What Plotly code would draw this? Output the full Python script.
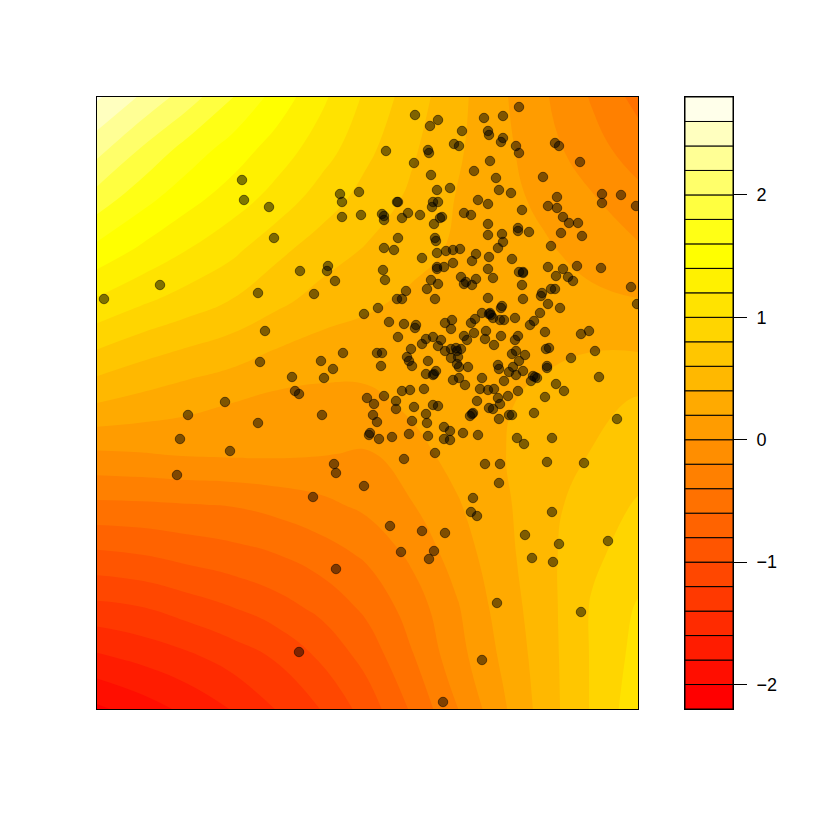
import plotly.graph_objects as go

grid_x = [97, 142, 187, 232, 277, 322, 367, 412, 457, 502, 547, 592, 638]
grid_y = [97, 148, 199, 250, 301, 352, 403, 454, 505, 556, 607, 658, 709]
grid_z = [
    [2.63, 2.37, 2.10, 1.81, 1.52, 1.24, 0.96, 0.70, 0.46, 0.23, 0.01, -0.22, -0.47],
    [2.28, 1.99, 1.73, 1.52, 1.31, 1.10, 0.85, 0.63, 0.43, 0.25, 0.07, -0.13, -0.30],
    [1.91, 1.67, 1.47, 1.30, 1.12, 0.90, 0.72, 0.56, 0.39, 0.26, 0.15, 0.02, -0.14],
    [1.54, 1.36, 1.20, 1.05, 0.85, 0.70, 0.58, 0.47, 0.37, 0.29, 0.22, 0.13, 0.03],
    [1.17, 1.03, 0.91, 0.79, 0.65, 0.52, 0.44, 0.36, 0.30, 0.27, 0.26, 0.24, 0.21],
    [0.78, 0.66, 0.57, 0.49, 0.38, 0.31, 0.29, 0.28, 0.28, 0.30, 0.37, 0.40, 0.40],
    [0.40, 0.33, 0.26, 0.20, 0.14, 0.13, 0.15, 0.24, 0.31, 0.38, 0.45, 0.53, 0.63],
    [-0.03, -0.01, 0.02, 0.03, 0.03, 0.01, -0.02, 0.13, 0.27, 0.39, 0.50, 0.61, 0.71],
    [-0.44, -0.43, -0.41, -0.39, -0.33, -0.25, -0.15, -0.01, 0.18, 0.36, 0.54, 0.70, 0.82],
    [-0.85, -0.81, -0.74, -0.68, -0.61, -0.50, -0.37, -0.16, 0.09, 0.33, 0.55, 0.76, 0.90],
    [-1.25, -1.20, -1.10, -1.00, -0.88, -0.74, -0.55, -0.31, -0.02, 0.29, 0.53, 0.82, 1.02],
    [-1.64, -1.55, -1.45, -1.32, -1.18, -0.97, -0.73, -0.42, -0.08, 0.23, 0.52, 0.82, 1.07],
    [-2.04, -1.90, -1.75, -1.59, -1.39, -1.19, -0.91, -0.57, -0.21, 0.16, 0.51, 0.82, 1.13],
]

levels = [round(-2.2 + 0.2 * i, 1) for i in range(26)]
band_colors = [
    "#ff0000", "#ff0e00", "#ff1c00", "#ff2b00", "#ff3900", "#ff4700", "#ff5500",
    "#ff6300", "#ff7100", "#ff8000", "#ff8e00", "#ff9c00", "#ffaa00", "#ffb800",
    "#ffc600", "#ffd500", "#ffe300", "#fff100", "#ffff00", "#ffff15", "#ffff40",
    "#ffff6a", "#ffff95", "#ffffbf", "#ffffea",
]
bar_ticks = [-2, -1, 0, 1, 2]

points = [
    (415, 115), (438, 120), (430, 126), (462, 131), (484, 118), (488, 131), (489, 135),
    (454, 144), (459, 146), (386, 151), (428, 150), (429, 153), (414, 163), (490, 161),
    (431, 175), (474, 171), (437, 190), (450, 188), (359, 192), (340, 194), (342, 202),
    (397, 202), (398, 202), (433, 202), (438, 202), (432, 207), (478, 200), (488, 204),
    (342, 217), (361, 215), (382, 214), (384, 216), (384, 220), (402, 218), (408, 213),
    (420, 215), (464, 213), (471, 215), (440, 218), (442, 217), (434, 224), (488, 224),
    (519, 107), (503, 116), (503, 138), (501, 142), (516, 146), (519, 153), (555, 143),
    (559, 146), (580, 162), (496, 178), (543, 177), (499, 190), (511, 193), (557, 197),
    (602, 194), (621, 195), (602, 203), (636, 206), (522, 210), (548, 206), (557, 208),
    (563, 217), (569, 223), (578, 223), (518, 228),
    (398, 238), (435, 238), (436, 241), (488, 235), (384, 248), (394, 250), (437, 253),
    (446, 251), (453, 250), (460, 249), (476, 254), (472, 261), (489, 257), (422, 258),
    (453, 263), (335, 281), (383, 270), (385, 280), (437, 267), (437, 269), (444, 267),
    (488, 269), (461, 277), (476, 279), (464, 284), (466, 282), (472, 285), (431, 280),
    (438, 284), (427, 289), (406, 291), (397, 299), (402, 299), (435, 299), (488, 298),
    (378, 308), (364, 314), (389, 322), (404, 324), (416, 325), (415, 328), (445, 323),
    (452, 320), (451, 329), (475, 319), (471, 323), (482, 313), (489, 314), (474, 333),
    (486, 331), (398, 337), (433, 337), (464, 336),
    (502, 234), (518, 231), (529, 232), (561, 233), (582, 236), (503, 242), (498, 248),
    (551, 246), (512, 259), (548, 267), (563, 269), (577, 266), (601, 268), (519, 272),
    (523, 272), (523, 273), (493, 278), (556, 276), (568, 277), (573, 281), (522, 285),
    (631, 287), (551, 289), (555, 289), (542, 293), (541, 296), (523, 299), (548, 304),
    (560, 308), (637, 304), (502, 306), (501, 308), (490, 313), (491, 315), (493, 318),
    (500, 320), (504, 320), (515, 318), (540, 313), (534, 321), (530, 325), (545, 332),
    (501, 336), (518, 336), (581, 334), (589, 331),
    (426, 339), (441, 340), (422, 344), (438, 346), (467, 340), (411, 349), (445, 351),
    (451, 349), (456, 348), (457, 351), (461, 349), (377, 353), (382, 353), (451, 358),
    (458, 357), (407, 357), (409, 361), (428, 361), (412, 366), (381, 366), (457, 364),
    (459, 367), (468, 367), (436, 371), (434, 374), (426, 374), (433, 375), (453, 380),
    (459, 378), (465, 385), (424, 389), (402, 391), (410, 390), (384, 396), (367, 398),
    (374, 404), (396, 401), (396, 409), (414, 407), (433, 405), (438, 406), (426, 414),
    (373, 415), (377, 422), (412, 421), (427, 423), (444, 427), (450, 431), (463, 433),
    (477, 401), (480, 389), (482, 378), (473, 413), (470, 416), (472, 414), (370, 433),
    (369, 435), (379, 439), (392, 437), (409, 434), (428, 436), (444, 439), (450, 440),
    (478, 435),
    (485, 339), (494, 345), (515, 340), (546, 349), (549, 348), (595, 351), (571, 358),
    (516, 351), (512, 354), (525, 355), (519, 361), (498, 365), (499, 369), (513, 367),
    (509, 372), (523, 371), (516, 375), (547, 366), (547, 368), (599, 377), (504, 381),
    (533, 376), (535, 377), (537, 378), (531, 381), (556, 384), (564, 391), (488, 390),
    (494, 389), (518, 391), (508, 396), (498, 398), (545, 397), (500, 404), (489, 408),
    (493, 409), (534, 413), (509, 415), (512, 415), (499, 419), (617, 419), (517, 438),
    (524, 444), (552, 438),
    (104, 299), (160, 285), (242, 180), (244, 200), (269, 207), (274, 238), (258, 293),
    (265, 331), (260, 362), (300, 271), (328, 266), (327, 271), (314, 294), (321, 361),
    (343, 353), (333, 369), (324, 378), (292, 377), (295, 391), (299, 394), (225, 402),
    (188, 415), (258, 423), (322, 415), (180, 439), (230, 451), (177, 475), (334, 464),
    (336, 473), (313, 497), (364, 486), (404, 459), (435, 453),
    (485, 464), (500, 464), (547, 462), (584, 463), (499, 483), (473, 498), (471, 512),
    (477, 516), (552, 512), (390, 526), (422, 531), (445, 533), (434, 551), (429, 559),
    (401, 552), (336, 569), (525, 535), (559, 544), (532, 558), (553, 562), (608, 541),
    (497, 603), (581, 612), (299, 652), (482, 660), (443, 702),
]
point_x = [p[0] for p in points]
point_y = [p[1] for p in points]

colorscale = []
for i, c in enumerate(band_colors):
    colorscale.append([i / 25, c])
    colorscale.append([(i + 1) / 25, c])

W = 830
H = 830

fig = go.Figure()

fig.add_trace(go.Contour(
    x=grid_x, y=grid_y, z=grid_z,
    autocontour=False,
    contours=dict(start=-2.2, end=2.8, size=0.2, coloring="fill", showlines=False),
    line=dict(width=0, smoothing=1.3),
    colorscale=colorscale, zmin=-2.2, zmax=2.8,
    showscale=False, hoverinfo="skip",
))

fig.add_trace(go.Scatter(
    x=point_x, y=point_y, mode="markers",
    marker=dict(size=9.5, color="rgba(0,0,0,0.5)", line=dict(color="rgba(0,0,0,0.5)", width=1)),
    hoverinfo="skip",
))

fig.add_trace(go.Bar(
    x=[0] * len(band_colors), y=[0.2] * len(band_colors), base=levels[:-1],
    width=1, xaxis="x2", yaxis="y2",
    marker=dict(color=band_colors, line=dict(color="black", width=1)),
    hoverinfo="skip",
))

fig.update_layout(
    width=W, height=H,
    margin=dict(l=0, r=0, t=0, b=0),
    paper_bgcolor="white", plot_bgcolor="white",
    showlegend=False, barmode="overlay",
    font=dict(family="Liberation Sans", size=18, color="black"),
    xaxis=dict(domain=[97 / W, 638 / W], range=[97, 638], showticklabels=False, ticks="",
               showgrid=False, zeroline=False, showline=True, mirror=True,
               linecolor="black", linewidth=1),
    yaxis=dict(domain=[1 - 709 / H, 1 - 97 / H], range=[709, 97], showticklabels=False, ticks="",
               showgrid=False, zeroline=False, showline=True, mirror=True,
               linecolor="black", linewidth=1),
    xaxis2=dict(domain=[685 / W, 733 / W], range=[-0.5, 0.5], anchor="y2", showticklabels=False,
                ticks="", showgrid=False, zeroline=False, showline=True, mirror=True,
                linecolor="black", linewidth=1),
    yaxis2=dict(domain=[1 - 709 / H, 1 - 97 / H], range=[-2.2, 2.8], anchor="x2", side="right",
                tickvals=bar_ticks, ticks="outside", ticklen=13, tickwidth=1, tickcolor="black",
                ticklabelstandoff=6,
                showgrid=False, zeroline=False, showline=True, mirror=True,
                linecolor="black", linewidth=1),
)

fig.write_html("out.html", config={"displayModeBar": False},
               post_script="document.body.style.margin='0';")
